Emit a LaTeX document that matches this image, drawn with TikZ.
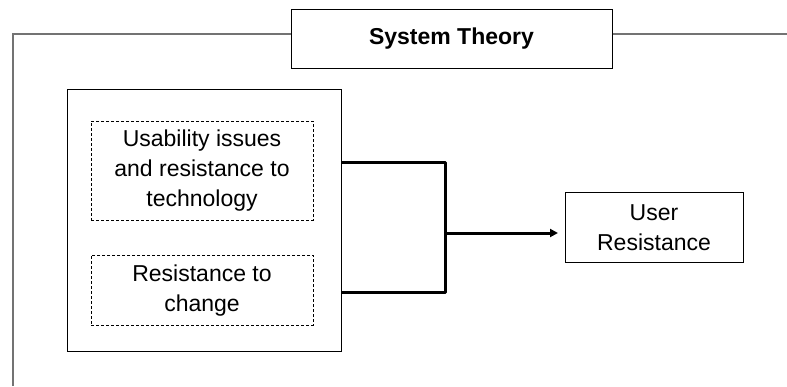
\documentclass[tikz,border=0pt]{standalone}
\usepackage{fontspec}
\setmainfont{Liberation Sans}
\usetikzlibrary{arrows.meta}
\newcommand{\lowtxt}[1]{\raisebox{-2pt}{\begin{tabular}{@{}c@{}}#1\end{tabular}}}
\begin{document}
\begin{tikzpicture}[x=1pt,y=1pt,
  box/.style={draw=black,line width=1pt,fill=white,align=center,inner sep=0pt,
    font=\fontsize{23}{30}\selectfont},
  dbox/.style={box,dash pattern=on 3pt off 2pt},
  frameline/.style={draw=black!55,line width=1.2pt},
  conn/.style={draw=black,line width=3pt},
  arr/.style={conn,-{Triangle[length=8pt,width=8pt]}}]
\useasboundingbox (0,0) rectangle (787,-386);
% frame
\coordinate (fbl) at (13,-386);
\coordinate (ftl) at (13,-34);
\coordinate (ftr) at (787,-34);
\node[box,minimum width=321pt,minimum height=59pt,font=\fontsize{23}{26}\selectfont\bfseries]
  (title) at (451.5,-38.5) {System Theory};
\draw[frameline] (fbl) -- (ftl) -- (title.west |- ftl);
\draw[frameline] (title.east |- ftr) -- (ftr);
% outer box
\node[box,minimum width=274pt,minimum height=262pt] (outer) at (204,-220) {};
\node[dbox,minimum width=222pt,minimum height=99pt] (d1) at (202,-170.5)
  {\lowtxt{Usability issues\\and resistance to\\technology}};
\node[dbox,minimum width=222pt,minimum height=70pt] (d2) at (202,-290)
  {\lowtxt{Resistance to\\change}};
\node[box,minimum width=178pt,minimum height=70pt] (user) at (654,-227.5)
  {User\\Resistance};
% connectors
\coordinate (a1) at (341,-162);
\coordinate (a2) at (341,-292);
\coordinate (j1) at (445,-162);
\coordinate (j2) at (445,-292);
\coordinate (jm) at (445,-233);
\coordinate (tip) at (558,-233);
\draw[conn,line join=round] (a1) -- (j1) -- (j2) -- (a2);
\draw[arr] (jm) -- (tip);
\end{tikzpicture}
\end{document}
